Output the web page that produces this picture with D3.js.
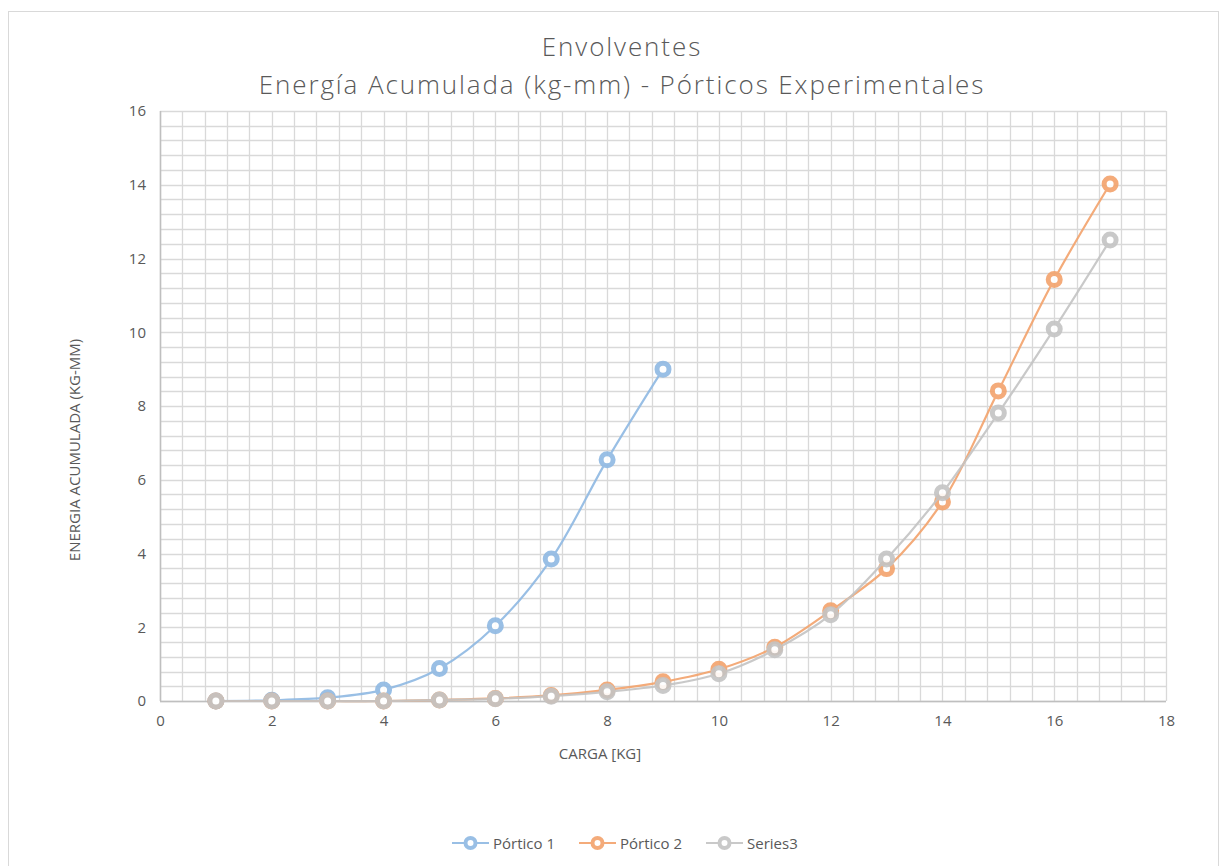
<!DOCTYPE html>
<html>
<head>
<meta charset="utf-8">
<script src="https://cdn.jsdelivr.net/npm/d3@7"></script>
<style>
  body { margin: 0; background: #fff; }
  text { font-family: "Open Sans", "Liberation Sans", sans-serif; fill: #595959; }
</style>
</head>
<body>
<div id="chart"></div>
<script>
var svgWidth = 1226;
var svgHeight = 866;

// plot area (pixels)
var margin = { top: 111, right: 60, bottom: 165, left: 160 };
var width = 1166 - margin.left;
var height = 701 - margin.top;

// data
var cargas = [1, 2, 3, 4, 5, 6, 7, 8, 9, 10, 11, 12, 13, 14, 15, 16, 17];
var portico1 = [0, 0.02, 0.09, 0.3, 0.88, 2.04, 3.85, 6.54, 9.0];
var portico2 = [0, 0, 0, 0, 0.03, 0.07, 0.15, 0.3, 0.52, 0.86, 1.46, 2.45, 3.59, 5.4, 8.41, 11.43, 14.02];
var series3 = [0, 0, 0, 0, 0.03, 0.06, 0.13, 0.25, 0.42, 0.74, 1.39, 2.34, 3.85, 5.65, 7.81, 10.09, 12.5];
var seriesNames = ["Pórtico 1", "Pórtico 2", "Series3"];
var seriesColors = ["#8fb9e3", "#f3a36c", "#c4c4c4"];
var xTicks = [0, 2, 4, 6, 8, 10, 12, 14, 16, 18];
var yTicks = [0, 2, 4, 6, 8, 10, 12, 14, 16];

var svg = d3.select("#chart")
  .append("svg")
  .attr("width", svgWidth)
  .attr("height", svgHeight);

// chart frame
svg.append("rect")
  .attr("x", 8.5)
  .attr("y", 11.5)
  .attr("width", 1210)
  .attr("height", 870)
  .attr("fill", "#fff")
  .attr("stroke", "#d9d9d9");

var chartGroup = svg.append("g")
  .attr("transform", `translate(${margin.left}, ${margin.top})`);

var xLinearScale = d3.scaleLinear().domain([0, 18]).range([0, width]);
var yLinearScale = d3.scaleLinear().domain([0, 16]).range([height, 0]);

// minor grid every 0.4
var minorX = d3.range(0, 18.001, 0.4);
var minorY = d3.range(0, 16.001, 0.4);

chartGroup.selectAll("line.vgrid")
  .data(minorX)
  .enter()
  .append("line")
  .attr("class", "vgrid")
  .attr("x1", d => Math.round(xLinearScale(d)) + 0.5)
  .attr("x2", d => Math.round(xLinearScale(d)) + 0.5)
  .attr("y1", 0)
  .attr("y2", height)
  .attr("stroke", "#d9d9d9")
  .attr("stroke-width", 1.3);

chartGroup.selectAll("line.hgrid")
  .data(minorY)
  .enter()
  .append("line")
  .attr("class", "hgrid")
  .attr("x1", 0)
  .attr("x2", width)
  .attr("y1", d => Math.round(yLinearScale(d)) + 0.5)
  .attr("y2", d => Math.round(yLinearScale(d)) + 0.5)
  .attr("stroke", "#d9d9d9")
  .attr("stroke-width", 1.3);

// axes lines
chartGroup.append("line")
  .attr("x1", 0.5).attr("x2", 0.5)
  .attr("y1", 0).attr("y2", height)
  .attr("stroke", "#bfbfbf").attr("stroke-width", 1.5);
chartGroup.append("line")
  .attr("x1", 0).attr("x2", width)
  .attr("y1", height + 0.5).attr("y2", height + 0.5)
  .attr("stroke", "#bfbfbf").attr("stroke-width", 1.5);

// tick labels via d3 axes
var bottomAxis = d3.axisBottom(xLinearScale).tickValues(xTicks).tickSize(0).tickPadding(14);
var leftAxis = d3.axisLeft(yLinearScale).tickValues(yTicks).tickSize(0).tickPadding(14);

var xAxis = chartGroup.append("g")
  .attr("transform", `translate(0, ${height})`)
  .call(bottomAxis);
var yAxis = chartGroup.append("g").call(leftAxis);

[xAxis, yAxis].forEach(function(ax) {
  ax.select(".domain").remove();
  ax.selectAll("text")
    .attr("font-size", "15px")
    .attr("font-family", "\"Open Sans\", sans-serif")
    .style("fill", "#595959");
});

// series lines + markers
var allSeries = [portico1, portico2, series3];
var line = d3.line()
  .x(d => xLinearScale(d[0]))
  .y(d => yLinearScale(d[1]))
  .curve(d3.curveCatmullRom.alpha(0.5));

allSeries.forEach(function(vals, i) {
  var pts = vals.map((v, j) => [cargas[j], v]);
  var g = chartGroup.append("g").attr("opacity", 0.9);
  g.append("path")
    .datum(pts)
    .attr("d", line)
    .attr("fill", "none")
    .attr("stroke", seriesColors[i])
    .attr("stroke-width", 2.2);
  g.selectAll("circle")
    .data(pts)
    .enter()
    .append("circle")
    .attr("cx", d => xLinearScale(d[0]))
    .attr("cy", d => yLinearScale(d[1]))
    .attr("r", 6)
    .attr("fill", "#fff")
    .attr("stroke", seriesColors[i])
    .attr("stroke-width", 5);
});

// titles
svg.append("text")
  .attr("x", 622).attr("y", 56)
  .attr("text-anchor", "middle")
  .attr("font-size", "26px")
  .attr("font-weight", 300)
  .attr("letter-spacing", "1.9px")
  .text("Envolventes");
svg.append("text")
  .attr("x", 622).attr("y", 94)
  .attr("text-anchor", "middle")
  .attr("font-size", "26px")
  .attr("font-weight", 300)
  .attr("letter-spacing", "1.9px")
  .text("Energía Acumulada (kg-mm) - Pórticos Experimentales");

// axis titles
svg.append("text")
  .attr("x", 600).attr("y", 759)
  .attr("text-anchor", "middle")
  .attr("font-size", "15px")
  .text("CARGA [KG]");
svg.append("text")
  .attr("transform", "translate(80, 450) rotate(-90)")
  .attr("text-anchor", "middle")
  .attr("font-size", "15px")
  .text("ENERGIA ACUMULADA (KG-MM)");

// legend
var legendX = [452, 579, 706];
var legend = svg.append("g");
seriesNames.forEach(function(name, i) {
  var lg = legend.append("g").attr("transform", `translate(${legendX[i]}, 843)`).attr("opacity", 0.9);
  lg.append("line")
    .attr("x1", 0).attr("x2", 37)
    .attr("y1", 0).attr("y2", 0)
    .attr("stroke", seriesColors[i]).attr("stroke-width", 2.2);
  lg.append("circle")
    .attr("cx", 18.5).attr("cy", 0).attr("r", 5)
    .attr("fill", "#fff")
    .attr("stroke", seriesColors[i]).attr("stroke-width", 4);
  legend.append("text")
    .attr("x", legendX[i] + 41).attr("y", 848.5)
    .attr("font-size", "15px")
    .text(name);
});
</script>
</body>
</html>
